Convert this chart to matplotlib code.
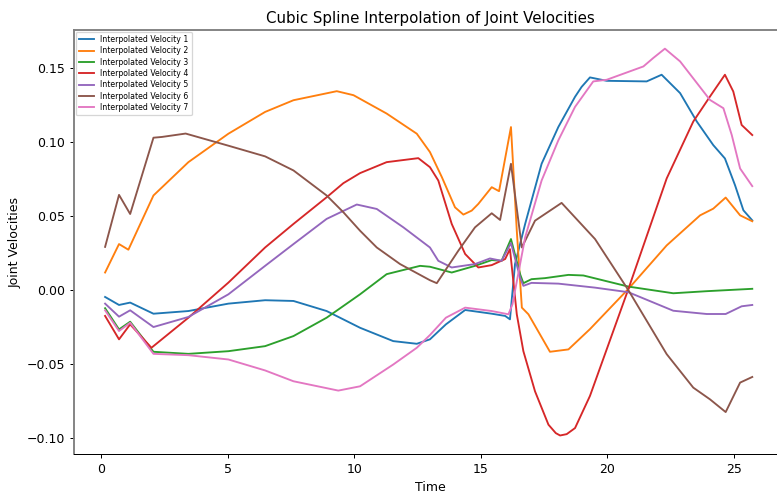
import numpy as np
import matplotlib.pyplot as plt

# values (time, velocity) per joint
t1 = [0.16, 0.71, 1.15, 2.07, 3.45, 5.03, 6.48, 7.6, 8.91, 10.23, 11.54, 12.47, 12.99,
      13.62, 14.38, 15.43, 15.96, 16.15, 16.35, 16.75, 17.4, 18.06, 18.72, 18.98, 19.31,
      19.97, 21.55, 22.14, 22.87, 23.53, 24.18, 24.64, 25.04, 25.37, 25.72]
v1 = [-0.0045, -0.0099, -0.0083, -0.0158, -0.014, -0.009, -0.0067, -0.0072, -0.014, -0.0253,
      -0.0343, -0.0361, -0.0331, -0.023, -0.0133, -0.0158, -0.0173, -0.0196, 0.0177, 0.0448,
      0.0854, 0.1102, 0.1306, 0.1373, 0.1437, 0.1414, 0.141, 0.1455, 0.1331, 0.1139, 0.098,
      0.089, 0.0709, 0.054, 0.0472]

t2 = [0.16, 0.71, 1.08, 2.07, 3.45, 5.03, 6.48, 7.6, 9.31, 9.97, 11.28, 12.47, 12.99,
      13.46, 13.98, 14.31, 14.64, 14.9, 15.43, 15.72, 16.19, 16.42, 16.62, 16.88, 17.73,
      18.46, 19.31, 20.83, 22.34, 23.66, 24.18, 24.67, 25.24, 25.72]
v2 = [0.012, 0.0312, 0.0274, 0.064, 0.0865, 0.1057, 0.1204, 0.1283, 0.1344, 0.1317, 0.1193,
      0.1057, 0.0933, 0.0764, 0.056, 0.0511, 0.0538, 0.0583, 0.0696, 0.0669, 0.1102, 0.0402,
      -0.0117, -0.0162, -0.0415, -0.0399, -0.0262, 0.001, 0.0303, 0.0506, 0.0551, 0.0626,
      0.0506, 0.0466]

t3 = [0.16, 0.71, 1.15, 2.07, 3.45, 5.03, 6.48, 7.6, 8.91, 10.23, 11.28, 12.6, 12.99,
      13.85, 14.77, 15.43, 15.82, 16.19, 16.55, 16.68, 17.0, 17.53, 18.46, 19.05, 20.83,
      22.6, 23.92, 25.72]
v3 = [-0.0121, -0.0264, -0.0212, -0.0415, -0.0429, -0.0411, -0.0377, -0.0309, -0.0185,
      -0.0027, 0.0109, 0.0165, 0.0159, 0.012, 0.0165, 0.0204, 0.0199, 0.0346, 0.0109, 0.0048,
      0.0075, 0.0082, 0.0104, 0.01, 0.0025, -0.002, -0.0006, 0.001]

t4 = [0.16, 0.71, 1.15, 1.99, 3.45, 5.03, 6.48, 7.6, 8.91, 9.57, 10.23, 11.28, 12.53,
      12.99, 13.32, 13.85, 14.38, 14.9, 15.43, 15.96, 16.15, 16.42, 16.68, 17.14, 17.67,
      17.96, 18.13, 18.39, 18.72, 19.31, 20.83, 22.34, 23.39, 24.05, 24.64, 24.97, 25.3, 25.72]
v4 = [-0.0173, -0.0331, -0.023, -0.0388, -0.0185, 0.0052, 0.0289, 0.0448, 0.0628, 0.0723,
      0.0791, 0.0865, 0.0892, 0.0831, 0.0741, 0.0448, 0.0245, 0.0154, 0.017, 0.0211, 0.0278,
      -0.0162, -0.0411, -0.0682, -0.0907, -0.0964, -0.098, -0.0971, -0.093, -0.0713, 0.001,
      0.0755, 0.1139, 0.1308, 0.1455, 0.1342, 0.1116, 0.1048]

t5 = [0.16, 0.71, 1.15, 2.07, 3.45, 5.03, 6.48, 7.6, 8.91, 10.1, 10.89, 11.94, 12.99,
      13.32, 13.85, 14.77, 15.36, 15.82, 16.19, 16.55, 16.68, 17.0, 18.06, 19.51, 20.83,
      22.6, 23.92, 24.67, 25.3, 25.72]
v5 = [-0.009, -0.0178, -0.0135, -0.0248, -0.018, -0.0027, 0.0165, 0.0312, 0.0482, 0.0579,
      0.0549, 0.0425, 0.0289, 0.0199, 0.0154, 0.0177, 0.0215, 0.0199, 0.0319, 0.0086, 0.003,
      0.005, 0.0045, 0.0018, -0.0013, -0.0138, -0.016, -0.016, -0.0108, -0.0099]

t6 = [0.16, 0.71, 1.15, 2.07, 2.4, 3.34, 5.03, 6.48, 7.6, 8.91, 9.57, 10.23, 10.89, 11.81,
      12.99, 13.26, 14.11, 14.77, 15.43, 15.76, 16.19, 16.62, 17.14, 18.19, 19.51, 20.83,
      22.34, 23.39, 24.05, 24.67, 25.24, 25.72]
v6 = [0.0293, 0.0644, 0.0515, 0.103, 0.1035, 0.1058, 0.0976, 0.0904, 0.0809, 0.064, 0.0527,
      0.0402, 0.0289, 0.0177, 0.0068, 0.0048, 0.0267, 0.0425, 0.052, 0.0475, 0.0854, 0.0289,
      0.047, 0.059, 0.0346, 0.0, -0.0431, -0.0657, -0.0736, -0.0822, -0.0623, -0.0585]

t7 = [0.16, 0.71, 1.15, 2.07, 3.45, 5.03, 6.48, 7.6, 9.37, 10.23, 11.54, 12.47, 12.99,
      13.62, 14.38, 15.43, 16.09, 16.25, 16.75, 17.4, 18.06, 18.72, 19.44, 19.97, 21.42,
      21.81, 22.27, 22.87, 24.05, 24.58, 24.91, 25.24, 25.72]
v7 = [-0.0135, -0.0275, -0.0219, -0.0429, -0.0438, -0.0467, -0.0541, -0.0614, -0.0677,
      -0.0648, -0.0501, -0.0388, -0.0302, -0.0185, -0.0117, -0.014, -0.0162, -0.0094, 0.0357,
      0.0741, 0.1012, 0.1238, 0.141, 0.1421, 0.1511, 0.1568, 0.1631, 0.1545, 0.1285, 0.1229,
      0.1048, 0.0822, 0.0703]

times = [t1, t2, t3, t4, t5, t6, t7]
vels = [v1, v2, v3, v4, v5, v6, v7]

fig = plt.figure(figsize=(777 / 90, 494 / 90), dpi=90)
# axes run past the right edge, the reference is cropped there
ax = fig.add_axes([73.7 / 777, 40 / 494, 713 / 777, 424 / 494])

for i in range(7):
    ax.plot(np.array(times[i]), np.array(vels[i]), label='Interpolated Velocity %d' % (i + 1))

ax.set_title('Cubic Spline Interpolation of Joint Velocities')
ax.set_xlabel('Time')
ax.set_ylabel('Joint Velocities')
ax.set_xlim(-1.08, 27.08)
ax.set_ylim(-0.1105, 0.1757)
ax.set_xticks([0, 5, 10, 15, 20, 25])
ax.set_yticks([-0.10, -0.05, 0.00, 0.05, 0.10, 0.15])
ax.spines['left'].set_color('gray')
ax.spines['top'].set_color('gray')
ax.spines['left'].set_linewidth(1.5)
ax.spines['top'].set_linewidth(1.5)
ax.legend(loc='upper left', fontsize=6.2, borderaxespad=0.25, labelspacing=0.3)

fig.savefig('out.png', dpi=90)
